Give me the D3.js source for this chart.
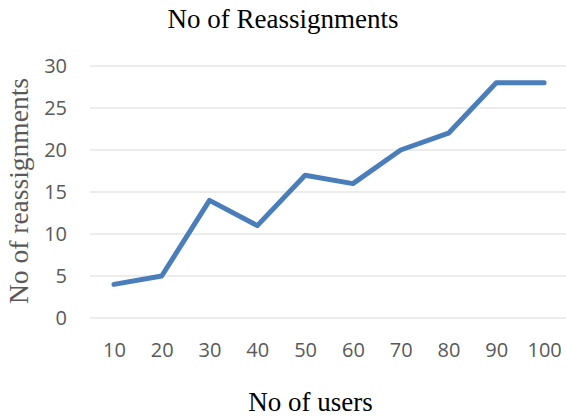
<!DOCTYPE html>
<html>
<head>
<meta charset="utf-8">
<script src="https://cdn.jsdelivr.net/npm/d3@7"></script>
<style>
  html, body { margin: 0; padding: 0; background: #fff; }
  svg { display: block; }
</style>
</head>
<body>
<svg id="chart" width="566" height="416"></svg>
<script>
// Number of users per run and the reassignments counted for each
const users = ["10", "20", "30", "40", "50", "60", "70", "80", "90", "100"];
const reassignments = [4, 5, 14, 11, 17, 16, 20, 22, 28, 28];
const yTicks = [0, 5, 10, 15, 20, 25, 30];

const svg = d3.select("#chart");
const plotLeft = 90, plotRight = 568, gridRight = 566, plotTop = 66, plotBottom = 318;

const x = d3.scalePoint().domain(users).range([plotLeft, plotRight]).padding(0.5);
const y = d3.scaleLinear().domain([0, 30]).range([plotBottom, plotTop]);

const tickFont = "'Open Sans', 'Liberation Sans', sans-serif";
const serif = "'Liberation Serif', 'Times New Roman', serif";

// horizontal gridlines
svg.append("g")
  .selectAll("line")
  .data(yTicks)
  .join("line")
  .attr("x1", plotLeft).attr("x2", gridRight)
  .attr("y1", d => y(d)).attr("y2", d => y(d))
  .attr("stroke", "#d9d9d9")
  .attr("stroke-width", 1);

// y axis labels
const yAxis = svg.append("g")
  .attr("transform", "translate(67,0)")
  .call(d3.axisLeft(y).tickValues(yTicks).tickSize(0).tickPadding(0));
yAxis.select(".domain").remove();
yAxis.selectAll("text")
  .attr("fill", "#595959")
  .style("font-family", tickFont)
  .style("font-size", "20px");

// x axis labels
const xAxis = svg.append("g")
  .attr("transform", `translate(0,${plotBottom + 17})`)
  .call(d3.axisBottom(x).tickSize(0).tickPadding(8));
xAxis.select(".domain").remove();
xAxis.selectAll("text")
  .attr("fill", "#595959")
  .style("font-family", tickFont)
  .style("font-size", "20px");

// data line
const line = d3.line()
  .x((d, i) => x(users[i]))
  .y(d => y(d));
svg.append("path")
  .datum(reassignments)
  .attr("d", line)
  .attr("fill", "none")
  .attr("stroke", "#4a7ebb")
  .attr("stroke-width", 5)
  .attr("stroke-linejoin", "round")
  .attr("stroke-linecap", "round");

// title
svg.append("text")
  .attr("x", 283).attr("y", 28)
  .attr("text-anchor", "middle")
  .attr("fill", "#000")
  .style("font-family", serif)
  .style("font-size", "27px")
  .text("No of Reassignments");

// axis titles
svg.append("text")
  .attr("transform", "translate(28,191) rotate(-90)")
  .attr("text-anchor", "middle")
  .attr("fill", "#595959")
  .style("font-family", serif)
  .style("font-size", "27.5px")
  .text("No of reassignments");

svg.append("text")
  .attr("x", 310.5).attr("y", 411)
  .attr("text-anchor", "middle")
  .attr("fill", "#000")
  .style("font-family", serif)
  .style("font-size", "27px")
  .text("No of users");
</script>
</body>
</html>
